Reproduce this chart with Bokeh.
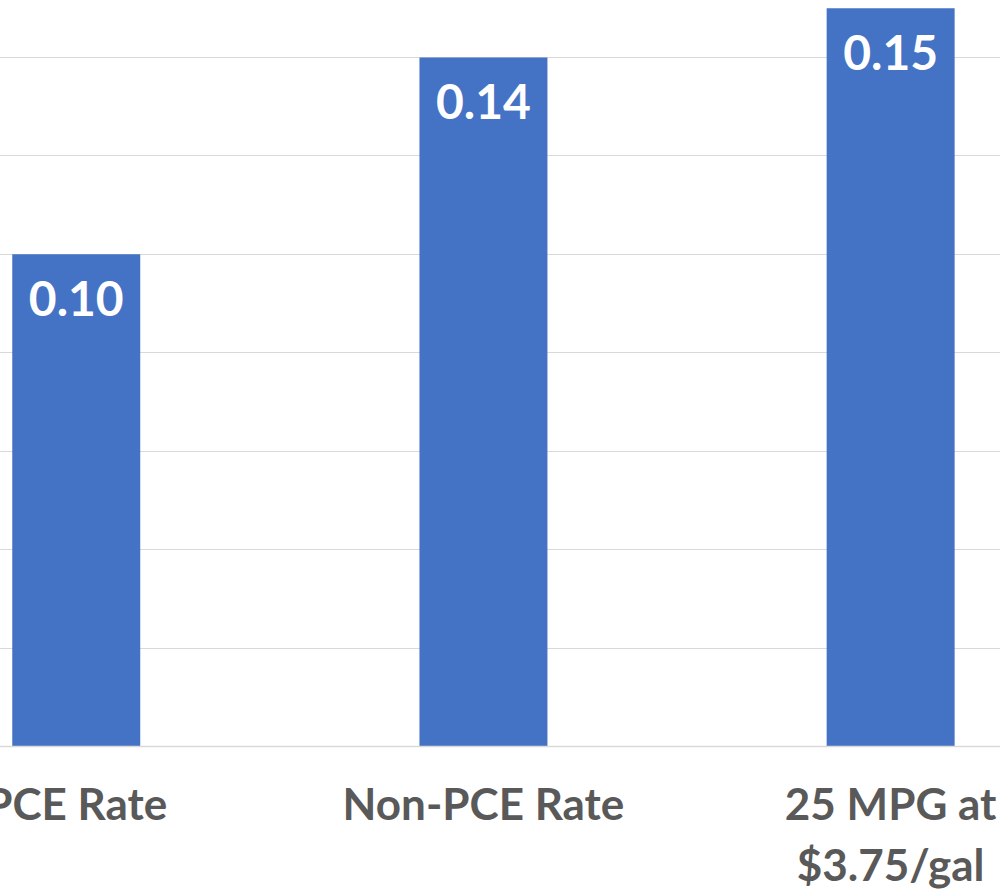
from bokeh.plotting import figure
from bokeh.models import ColumnDataSource, Range1d, FixedTicker
from bokeh.core.properties import value
from bokeh.embed import file_html
from bokeh.resources import INLINE

categories = ["PCE Rate", "Non-PCE Rate", "25 MPG at\n$3.75/gal"]
positions = [0, 1, 2]
values = [0.10, 0.14, 0.15]
value_labels = ["0.10", "0.14", "0.15"]
grid_ticks = [0.02, 0.04, 0.06, 0.08, 0.10, 0.12, 0.14]

FONT = "Lato"
BLUE = "#4472C4"
GRAY_TEXT = "#595959"
GRID = "#D9D9D9"

src = ColumnDataSource(dict(x=positions, top=values, label=value_labels))

p = figure(frame_width=1030, frame_height=746, output_backend="svg", toolbar_location=None,
           x_range=Range1d(-0.2597, 2.2698), y_range=Range1d(0, 0.15158),
           min_border_left=0, min_border_right=0, min_border_top=0,
           min_border_bottom=144, margin=(0, 0, 0, -30))
p.outline_line_color = None
p.background_fill_color = "white"
p.border_fill_color = "white"

p.vbar(x="x", top="top", width=0.3143, bottom=0, source=src,
       fill_color=BLUE, line_color=None)

p.text(x="x", y="top", text="label", source=src, text_color="white",
       text_font=value(FONT), text_font_style="bold", text_font_size="48px",
       text_align="center", text_baseline="alphabetic", y_offset=44)

p.yaxis.visible = False
p.ygrid.ticker = FixedTicker(ticks=grid_ticks)
p.ygrid.grid_line_color = GRID
p.ygrid.grid_line_width = 1
p.xgrid.grid_line_color = None

xa = p.xaxis[0]
xa.ticker = FixedTicker(ticks=positions)
xa.major_label_overrides = {pos: cat for pos, cat in zip(positions, categories)}
xa.major_tick_line_color = None
xa.minor_tick_line_color = None
xa.major_tick_out = 0
xa.major_tick_in = 0
xa.axis_line_color = GRID
xa.axis_line_width = 1.5
xa.major_label_standoff = 30
xa.major_label_text_font = FONT
xa.major_label_text_font_style = "bold"
xa.major_label_text_font_size = "44px"
xa.major_label_text_color = GRAY_TEXT
xa.major_label_text_line_height = 1.18

open("out.html", "w").write(file_html(p, INLINE))
